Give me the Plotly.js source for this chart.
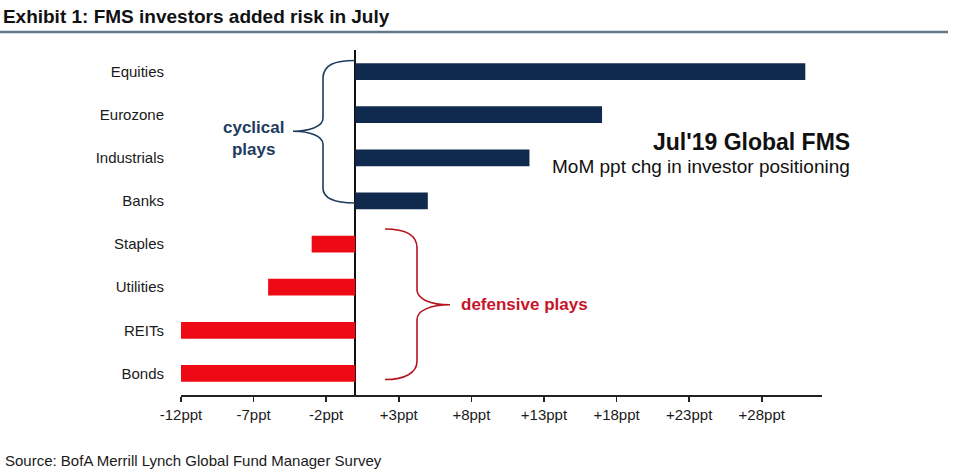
<!DOCTYPE html>
<html>
<head>
<meta charset="utf-8">
<script src="https://cdn.plot.ly/plotly-3.0.1.min.js"></script>
<style>html,body{margin:0;padding:0;background:#fff;}#chart{width:966px;height:473px;}</style>
</head>
<body>
<div id="chart"></div>
<script>
// ---- data ----
const categories = ["Equities", "Eurozone", "Industrials", "Banks", "Staples", "Utilities", "REITs", "Bonds"];
const changes = [31, 17, 12, 5, -3, -6, -12, -12];
const tickValues = [-12, -7, -2, 3, 8, 13, 18, 23, 28];
const tickLabels = ["-12ppt", "-7ppt", "-2ppt", "+3ppt", "+8ppt", "+13ppt", "+18ppt", "+23ppt", "+28ppt"];

// ---- styling ----
const W = 966, H = 473;
const M = {l: 181, r: 144, t: 49.5, b: 77.5};
const NAVY = "#0f2a4c", RED = "#ee0a14";
const FONT = "'Liberation Sans Narrow', 'Liberation Sans', Arial, sans-serif";

function px(x, y) { // pixel -> paper
  return [(x - M.l) / (W - M.l - M.r), (H - M.b - y) / (H - M.t - M.b)];
}
function pathFrom(cmds) {
  return cmds.map(c => {
    const op = c[0];
    const pts = [];
    for (let i = 1; i < c.length; i += 2) { const p = px(c[i], c[i + 1]); pts.push(p[0].toFixed(5) + "," + p[1].toFixed(5)); }
    return op + pts.join(" ");
  }).join(" ");
}
const cyclicalBrace = pathFrom([
  ["M", 355, 60], ["C", 335, 60, 323, 64, 323, 78], ["L", 323, 118],
  ["C", 323, 126, 310, 131, 293, 131], ["C", 310, 131, 323, 136, 323, 144],
  ["L", 323, 188], ["C", 323, 198, 335, 203, 355, 203]
]);
const defensiveBrace = pathFrom([
  ["M", 385, 229], ["C", 405, 229, 417, 234, 417, 248], ["L", 417, 290],
  ["C", 417, 299, 430, 305, 450, 305], ["C", 430, 305, 417, 311, 417, 320],
  ["L", 417, 362], ["C", 417, 373, 405, 380, 385, 380]
]);

const trace = {
  type: "bar", orientation: "h",
  x: changes, y: categories,
  marker: {color: changes.map(v => v >= 0 ? NAVY : RED), line: {width: 0}},
  hoverinfo: "x+y"
};

const layout = {
  width: W, height: H,
  margin: M,
  paper_bgcolor: "#fff", plot_bgcolor: "#fff",
  showlegend: false,
  bargap: 0.61,
  font: {family: FONT, color: "#1a1a1a", size: 15},
  title: {
    text: "<b>Exhibit 1: FMS investors added risk in July</b>",
    x: 0.003, xref: "container", xanchor: "left",
    y: 1 - 16 / H, yref: "container", yanchor: "middle",
    font: {family: FONT, size: 19, color: "#111"}
  },
  xaxis: {
    range: [-12, 32.15],
    tickvals: tickValues, ticktext: tickLabels,
    showgrid: false,
    zeroline: true, zerolinecolor: "#111", zerolinewidth: 2,
    showline: true, linecolor: "#222", linewidth: 1.5,
    ticks: "outside", ticklen: 5, tickwidth: 1.5, tickcolor: "#222",
    tickfont: {size: 15, color: "#1a1a1a"},
    fixedrange: true
  },
  yaxis: {
    range: [7.5, -0.5],
    type: "category",
    showgrid: false, zeroline: false, showline: false, ticks: "",
    ticklabelstandoff: 16,
    tickfont: {size: 15, color: "#1a1a1a"},
    fixedrange: true
  },
  shapes: [
    {type: "line", xref: "paper", yref: "paper", x0: px(0, 31.5)[0], x1: px(948, 31.5)[0], y0: px(0, 31.5)[1], y1: px(0, 31.5)[1],
     line: {color: "#5f7a88", width: 2.5}},
    {type: "path", xref: "paper", yref: "paper", path: cyclicalBrace, line: {color: "#1f3b5e", width: 1.6}},
    {type: "path", xref: "paper", yref: "paper", path: defensiveBrace, line: {color: "#b5161e", width: 1.6}}
  ],
  annotations: [
    {xref: "paper", yref: "paper", x: px(852, 0)[0], y: px(0, 142)[1], xanchor: "right", yanchor: "middle",
     text: "<b>Jul'19 Global FMS</b>", showarrow: false, font: {size: 23, color: "#111"}},
    {xref: "paper", yref: "paper", x: px(852, 0)[0], y: px(0, 166)[1], xanchor: "right", yanchor: "middle",
     text: "MoM ppt chg in investor positioning", showarrow: false, font: {size: 19, color: "#111"}},
    {xref: "paper", yref: "paper", x: px(253, 0)[0], y: px(0, 138)[1], xanchor: "center", yanchor: "middle",
     text: "<b>cyclical<br>plays</b>", showarrow: false, align: "center", font: {size: 17, color: "#1f3b5e"}},
    {xref: "paper", yref: "paper", x: px(459, 0)[0], y: px(0, 305)[1], xanchor: "left", yanchor: "middle",
     text: "<b>defensive plays</b>", showarrow: false, font: {size: 17, color: "#c8142a"}},
    {xref: "paper", yref: "paper", x: px(3, 0)[0], y: px(0, 461)[1], xanchor: "left", yanchor: "middle",
     text: "Source: BofA Merrill Lynch Global Fund Manager Survey", showarrow: false, font: {size: 15, color: "#1a1a1a"}}
  ]
};

Plotly.newPlot("chart", [trace], layout, {displayModeBar: false, staticPlot: true});
</script>
</body>
</html>
